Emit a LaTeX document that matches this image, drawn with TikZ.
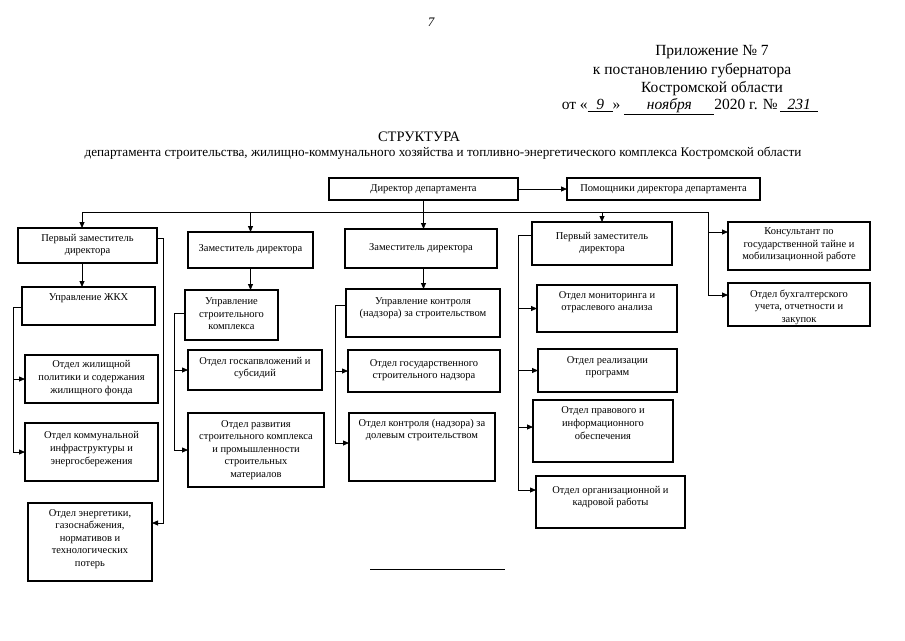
\documentclass[tikz,border=0pt]{standalone}
\usepackage{fontspec}
\setmainfont{Liberation Serif}
\usetikzlibrary{arrows.meta,calc}
\tikzset{
  box/.style={draw, line width=1.2pt, inner sep=0pt, outer sep=0pt},
  txt/.style={align=center, inner sep=0pt, font=\fontsize{10.5}{12.6}\selectfont},
  hdr/.style={inner sep=0pt, font=\fontsize{15.5}{18}\selectfont},
  conn/.style={line width=0.8pt},
  arr/.style={line width=0.8pt, -{Triangle[length=6pt,width=5pt]}},
}
\newcommand\orgbox[7]{%
  \node[box, anchor=north west, minimum width={(#4-#2)*1pt}, minimum height={(#5-#3)*1pt}] (#1) at (#2,#3) {};
  \node[txt] (#1t) at ({(#2+#4)/2},#6) {#7};
}
\begin{document}
\begin{tikzpicture}[x=1pt,y=-1pt]
\useasboundingbox (0,0) rectangle (905,640);
\fill[white] (0,0) rectangle (905,640);

% header
\node[inner sep=0pt, font=\itshape\fontsize{13}{13}\selectfont] (pg) at (431,22) {7};
\node[hdr] (h1) at (712,52) {Приложение № 7};
\node[hdr] (h2) at (692,71) {к постановлению губернатора};
\node[hdr] (h3) at (712,89) {Костромской области};
\node[hdr] (h4) at (690,107) {от «\underline{\hbox to 25pt{\hfil\textit{9}\hfil}}» \underline{\hbox to 90pt{\hfil\textit{ноября}\hfil}}2020 г. №\,\underline{\hbox to 38pt{\hfil\textit{231}\hfil}}};

\node[inner sep=0pt, font=\fontsize{14.5}{16}\selectfont] (title) at (419,137) {СТРУКТУРА};
\node[inner sep=0pt, font=\fontsize{13.2}{16}\selectfont] (subtitle) at (443,153) {департамента строительства, жилищно-коммунального хозяйства и топливно-энергетического комплекса Костромской области};

% boxes
\orgbox{dir}{329}{178}{518}{200}{189}{Директор департамента}
\orgbox{pom}{567}{178}{760}{200}{189}{Помощники директора департамента}

\orgbox{z1}{18}{228}{157}{263}{245}{Первый заместитель\\директора}
\orgbox{z2}{188}{232}{313}{268}{249}{Заместитель директора}
\orgbox{z3}{345}{229}{497}{268}{248}{Заместитель директора}
\orgbox{z4}{532}{222}{672}{265}{243}{Первый заместитель\\директора}
\orgbox{kons}{728}{222}{870}{270}{245}{Консультант по\\государственной тайне и\\мобилизационной работе}
\orgbox{buh}{728}{283}{870}{326}{307}{Отдел бухгалтерского\\учета, отчетности и\\закупок}

\orgbox{u1}{22}{287}{155}{325}{298}{Управление ЖКХ}
\orgbox{u1a}{25}{355}{158}{403}{378}{Отдел жилищной\\политики и содержания\\жилищного фонда}
\orgbox{u1b}{25}{423}{158}{481}{449}{Отдел коммунальной\\инфраструктуры и\\энергосбережения}
\orgbox{u1c}{28}{503}{152}{581}{539}{Отдел энергетики,\\газоснабжения,\\нормативов и\\технологических\\потерь}

\orgbox{u2}{185}{290}{278}{340}{314}{Управление\\строительного\\комплекса}
\orgbox{u2a}{188}{350}{322}{390}{368}{Отдел госкапвложений и\\субсидий}
\orgbox{u2b}{188}{413}{324}{487}{450}{Отдел развития\\строительного комплекса\\и промышленности\\строительных\\материалов}

\orgbox{u3}{346}{289}{500}{337}{308}{Управление контроля\\(надзора) за строительством}
\orgbox{u3a}{348}{350}{500}{392}{370}{Отдел государственного\\строительного надзора}
\orgbox{u3b}{349}{413}{495}{481}{430}{Отдел контроля (надзора) за\\долевым строительством}

\orgbox{u4a}{537}{285}{677}{332}{302}{Отдел мониторинга и\\отраслевого анализа}
\orgbox{u4b}{538}{349}{677}{392}{367}{Отдел реализации\\программ}
\orgbox{u4c}{533}{400}{673}{462}{423}{Отдел правового и\\информационного\\обеспечения}
\orgbox{u4d}{536}{476}{685}{528}{497}{Отдел организационной и\\кадровой работы}

% connectors
\draw[arr] (dir.east) -- (pom.west);
\coordinate (busL) at (82,212);
\coordinate (busR) at (708,212);
\draw[conn] (busL) -- (busR);
\draw[arr] (busL) -- (busL |- z1.north);
\draw[arr] (z2.north |- busL) -- (z2.north);
\draw[arr] (dir.south) -- (dir.south |- z3.north);
\draw[arr] (z4.north |- busL) -- (z4.north);
\coordinate (konsIn) at ($(kons.north west)+(0,10)$);
\coordinate (buhIn) at ($(buh.north west)+(0,12)$);
\draw[arr] (busR) |- (konsIn);
\draw[arr] (busR) |- (buhIn);

% first deputy (left)
\coordinate (z1r) at ($(z1.north east)+(0,10)$);
\coordinate (u1cIn) at ($(u1c.north east)+(0,20)$);
\draw[arr] (z1r) -- ++(6,0) |- (u1cIn);
\draw[arr] (busL |- z1.south) -- (busL |- u1.north);
\coordinate (u1s) at ($(u1.north west)+(0,20)$);
\draw[arr] (u1s) -- ++(-9,0) coordinate (u1k) |- (u1b.west);
\draw[arr] (u1k |- u1a.west) -- (u1a.west);

% deputy 2
\draw[arr] (z2.south) -- (z2.south |- u2.north);
\coordinate (u2s) at ($(u2.north west)+(0,23)$);
\draw[arr] (u2s) -- ++(-11,0) coordinate (u2k) |- (u2b.west);
\draw[arr] (u2k |- u2a.west) -- (u2a.west);

% deputy 3
\draw[arr] (dir.south |- z3.south) -- (dir.south |- u3.north);
\coordinate (u3s) at ($(u3.north west)+(0,16)$);
\coordinate (u3bIn) at ($(u3b.north west)+(0,30)$);
\draw[arr] (u3s) -- ++(-11,0) coordinate (u3k) |- (u3bIn);
\draw[arr] (u3k |- u3a.west) -- (u3a.west);

% first deputy (right)
\coordinate (z4s) at ($(z4.north west)+(0,13)$);
\coordinate (u4dIn) at ($(u4d.north west)+(0,14)$);
\coordinate (u4cIn) at ($(u4c.north west)+(0,27)$);
\draw[arr] (z4s) -- ++(-14,0) coordinate (z4k) |- (u4dIn);
\draw[arr] (z4k |- u4a.west) -- (u4a.west);
\draw[arr] (z4k |- u4b.west) -- (u4b.west);
\draw[arr] (z4k |- u4cIn) -- (u4cIn);

% footer rule
\coordinate (f1) at (370,569);
\coordinate (f2) at (505,569);
\draw[line width=0.8pt] (f1) -- (f2);
\end{tikzpicture}
\end{document}
